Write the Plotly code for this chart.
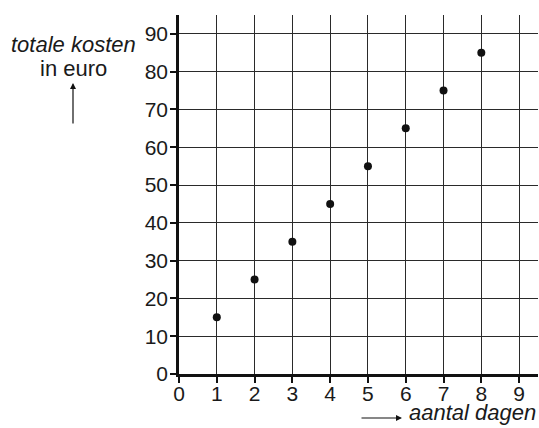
import plotly.graph_objects as go

days = [1, 2, 3, 4, 5, 6, 7, 8]
costs = [15, 25, 35, 45, 55, 65, 75, 85]
x_ticks = [0, 1, 2, 3, 4, 5, 6, 7, 8, 9]
y_ticks = [0, 10, 20, 30, 40, 50, 60, 70, 80, 90]

W, H = 539, 428
L, R, T, B = 179, 1, 15, 54
pw = W - L - R
ph = H - T - B

def px(xp):
    return (xp - L) / pw

def py(yp):
    return (H - B - yp) / ph

FONT = "Liberation Sans, Arial, sans-serif"
TICK = 21
TXT = 22

fig = go.Figure()
fig.add_trace(go.Scatter(x=days, y=costs, mode="markers",
                         marker=dict(color="#111111", size=8),
                         showlegend=False, cliponaxis=False, hoverinfo="skip"))

fig.update_layout(
    width=W, height=H,
    margin=dict(l=L, r=R, t=T, b=B),
    plot_bgcolor="white", paper_bgcolor="white",
    font=dict(family=FONT, size=TICK, color="#1a1a1a"),
    xaxis=dict(range=[0, 9.5], tickvals=x_ticks, ticktext=[str(v) for v in x_ticks],
               showgrid=True, gridcolor="#2a2a2a", gridwidth=1.4,
               zeroline=False, showline=True, linecolor="#111111", linewidth=2.5,
               ticks="outside", ticklen=6, tickwidth=1.5, tickcolor="#111111",
               ticklabelstandoff=-7,
               tickfont=dict(size=TICK, family=FONT)),
    yaxis=dict(range=[0, 95], tickvals=y_ticks, ticktext=[str(v) for v in y_ticks],
               showgrid=True, gridcolor="#2a2a2a", gridwidth=1.4,
               zeroline=False, showline=True, linecolor="#111111", linewidth=2.5,
               ticks="outside", ticklen=6, tickwidth=1.5, tickcolor="#111111",
               ticklabelstandoff=-2,
               tickfont=dict(size=TICK, family=FONT)),
)

anns = [
    dict(x=px(73), y=py(44), xref="paper", yref="paper", text="<i>totale kosten</i>",
         showarrow=False, xanchor="center", yanchor="middle", font=dict(size=TXT, family=FONT)),
    dict(x=px(73), y=py(69), xref="paper", yref="paper", text="in euro",
         showarrow=False, xanchor="center", yanchor="middle", font=dict(size=TXT, family=FONT)),
    dict(x=px(73), y=py(83), xref="paper", yref="paper", text="",
         showarrow=True, ax=0, ay=42, axref="pixel", ayref="pixel",
         arrowhead=2, arrowsize=1, arrowwidth=1.2, arrowcolor="#111111"),
    dict(x=px(538), y=py(413), xref="paper", yref="paper", text="<i>aantal dagen</i>",
         showarrow=False, xanchor="right", yanchor="middle", font=dict(size=TXT, family=FONT)),
    dict(x=px(402), y=py(418), xref="paper", yref="paper", text="",
         showarrow=True, ax=-42, ay=0, axref="pixel", ayref="pixel",
         arrowhead=2, arrowsize=1, arrowwidth=1.2, arrowcolor="#111111"),
]
fig.update_layout(annotations=anns)

fig.write_html("out.html", config={"displayModeBar": False},
               post_script="document.body.style.margin='0';document.body.style.padding='0';")
